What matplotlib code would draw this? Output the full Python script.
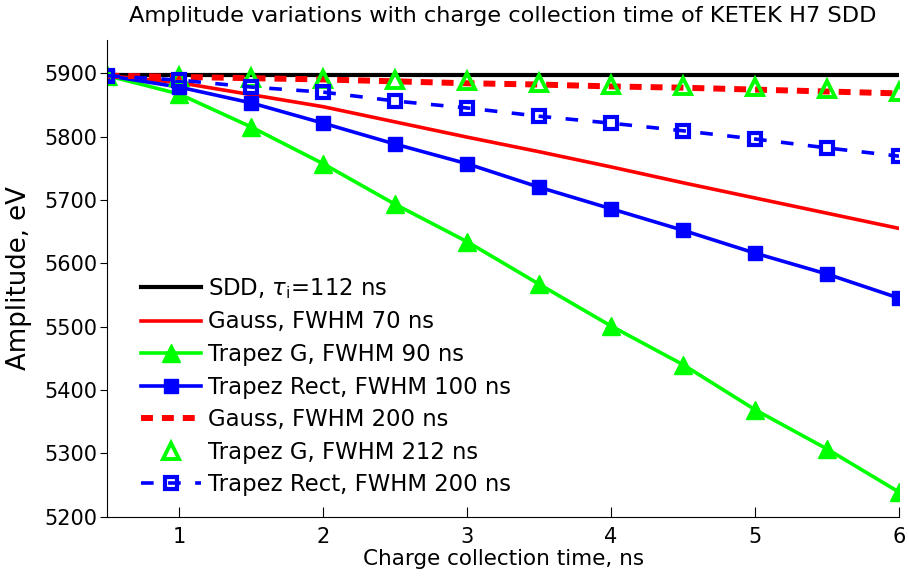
import numpy as np
import matplotlib.pyplot as plt

plt.rcParams['font.family'] = ['DejaVu Sans']

x = [0.5, 1, 1.5, 2, 2.5, 3, 3.5, 4, 4.5, 5, 5.5, 6]

sdd = [5897, 5897, 5897, 5897, 5897, 5897, 5897, 5897, 5897, 5897, 5897, 5897]
gauss70 = [5896, 5885, 5866, 5847, 5823, 5799, 5776, 5752, 5727, 5703, 5679, 5655]
trapg90 = [5896, 5867, 5815, 5757, 5693, 5634, 5567, 5501, 5440, 5369, 5307, 5239]
traprect100 = [5896, 5878, 5853, 5821, 5788, 5757, 5720, 5686, 5652, 5616, 5583, 5545]
gauss200 = [5896, 5894, 5892, 5890, 5887, 5884, 5882, 5879, 5877, 5874, 5871, 5868]
trapg212 = [5896, 5894, 5892, 5890, 5889, 5887, 5885, 5882, 5880, 5878, 5875, 5871]
traprect200 = [5896, 5889, 5878, 5870, 5856, 5845, 5832, 5821, 5809, 5796, 5782, 5769]

labels = ['SDD, $\\tau_{\\mathregular{i}}$=112 ns', 'Gauss, FWHM 70 ns', 'Trapez G, FWHM 90 ns',
          'Trapez Rect, FWHM 100 ns', 'Gauss, FWHM 200 ns', 'Trapez G, FWHM 212 ns',
          'Trapez Rect, FWHM 200 ns']

fig = plt.figure(figsize=(9.09, 5.82), dpi=100)
ax = fig.add_axes([0.118, 0.112, 0.871, 0.819])

ax.plot(x, sdd, color='black', lw=3, label=labels[0])
ax.plot(x, gauss70, color='#ff0000', lw=2.6, label=labels[1])
ax.plot(x, trapg90, color='#00ff00', lw=2.6, marker='^', ms=13, label=labels[2])
ax.plot(x, traprect100, color='#0000ff', lw=2.6, marker='s', ms=10, label=labels[3])
ax.plot(x, gauss200, color='#ff0000', lw=4.3, ls=(0, (2.0, 1.5)), label=labels[4])
ax.plot(x, trapg212, color='#00ff00', lw=0, marker='^', ms=12, mfc='none', mew=2.8, label=labels[5])
ax.plot(x, traprect200, color='#0000ff', lw=2.6, ls=(0, (3.5, 4)), marker='s', ms=9,
        mfc='none', mew=3, label=labels[6])

ax.set_xlim(0.5, 6)
ax.set_ylim(5200, 5952)
ax.set_xticks([1, 2, 3, 4, 5, 6])
ax.set_yticks(np.arange(5200, 5901, 100))
ax.spines['top'].set_visible(False)
ax.spines['right'].set_visible(False)
ax.tick_params(axis='x', direction='in', labelsize=15, length=7, pad=7)
ax.tick_params(axis='y', direction='out', labelsize=15, length=5, pad=2)

ax.set_xlabel('Charge collection time, ns', fontsize=15.5, labelpad=2)
ax.set_ylabel('Amplitude, eV', fontsize=18.7, labelpad=9)
ax.set_title('Amplitude variations with charge collection time of KETEK H7 SDD', fontsize=16.2, pad=13)

ax.legend(loc='lower left', bbox_to_anchor=(0.042, 0.043), frameon=False, fontsize=16.4,
          handlelength=2.65, labelspacing=0.42, handletextpad=0.3,
          borderpad=0, borderaxespad=0)

fig.savefig('out.png', dpi=100)
